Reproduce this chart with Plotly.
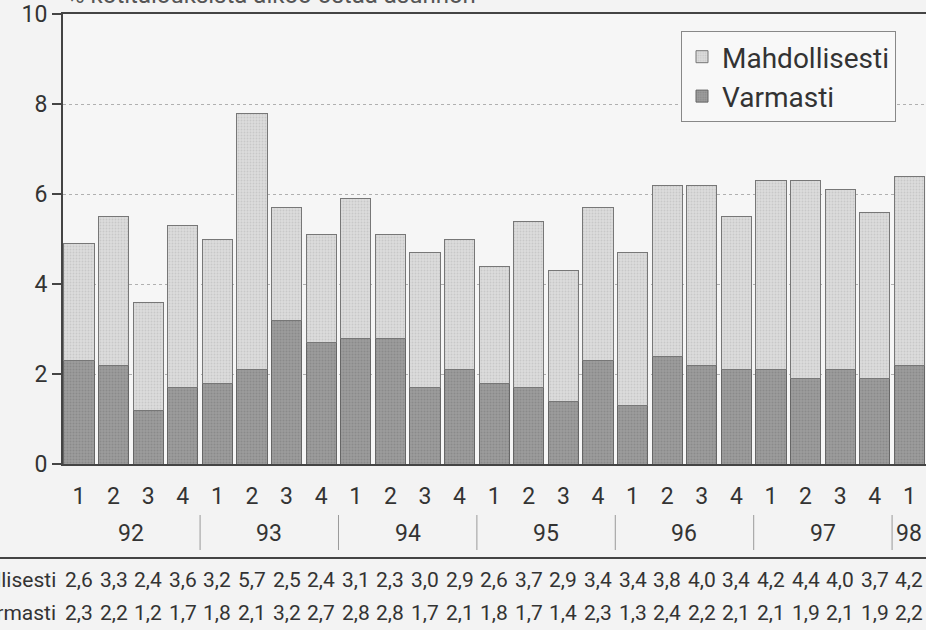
import plotly.graph_objects as go

# ---- data ----
quarters = ["1", "2", "3", "4"] * 6 + ["1"]
years = ["92", "93", "94", "95", "96", "97", "98"]
quarters_per_year = [4, 4, 4, 4, 4, 4, 1]
mahdollisesti = [2.6, 3.3, 2.4, 3.6, 3.2, 5.7, 2.5, 2.4, 3.1, 2.3, 3.0, 2.9, 2.6,
                 3.7, 2.9, 3.4, 3.4, 3.8, 4.0, 3.4, 4.2, 4.4, 4.0, 3.7, 4.2]
varmasti = [2.3, 2.2, 1.2, 1.7, 1.8, 2.1, 3.2, 2.7, 2.8, 2.8, 1.7, 2.1, 1.8,
            1.7, 1.4, 2.3, 1.3, 2.4, 2.2, 2.1, 2.1, 1.9, 2.1, 1.9, 2.2]
y_ticks = [0, 2, 4, 6, 8, 10]
series_names = ["Mahdollisesti", "Varmasti"]
title_text = "% kotitalouksista aikoo ostaa asunnon"

FONT = "Roboto, sans-serif"
TXT = "#333333"
x = list(range(len(quarters)))

W, H = 926, 630
L, R, T, B = 63, 0, 14, 166
pw = W - L - R
ph = H - T - B


def py(px):
    """pixel y (from top) -> paper y"""
    return (H - B - px) / ph


def pxx(px):
    """pixel x (from left) -> paper x"""
    return (px - L) / pw


fig = go.Figure()
fig.add_trace(go.Bar(
    x=x, y=varmasti, name=series_names[1],
    marker=dict(color="#9c9c9c", line=dict(color="#666666", width=1),
                pattern=dict(shape=".", fgcolor="#777777", size=3, solidity=0.35)),
    width=0.87,
))
fig.add_trace(go.Bar(
    x=x, y=mahdollisesti, name=series_names[0],
    marker=dict(color="#dcdcdc", line=dict(color="#777777", width=1),
                pattern=dict(shape=".", fgcolor="#b3b3b3", size=3, solidity=0.3)),
    width=0.87,
))

annotations = []
shapes = []

# year labels and separators
start = 0
for yr, n in zip(years, quarters_per_year):
    center = start + (n - 1) / 2
    annotations.append(dict(x=center, xref="x", y=py(533), yref="paper",
                            xanchor="center", yanchor="middle",
                            text=yr, showarrow=False,
                            font=dict(family=FONT, size=23, color=TXT)))
    shapes.append(dict(type="line", xref="x", yref="paper",
                       x0=start - 0.5, x1=start - 0.5, y0=py(515), y1=py(550),
                       line=dict(color="#9a9a9a", width=1)))
    start += n

# horizontal rule above table
shapes.append(dict(type="line", xref="paper", yref="paper",
                   x0=pxx(0), x1=1, y0=py(558), y1=py(558),
                   line=dict(color="#444444", width=2)))

# data table
for label, vals, ypx in [(series_names[0], mahdollisesti, 580),
                         (series_names[1], varmasti, 613)]:
    annotations.append(dict(x=pxx(58), xref="paper", y=py(ypx), yref="paper",
                            text=label, showarrow=False,
                            xanchor="right", yanchor="middle",
                            font=dict(family=FONT, size=21, color=TXT)))
    for i, v in enumerate(vals):
        annotations.append(dict(x=i, xref="x", y=py(ypx), yref="paper",
                                xanchor="center", yanchor="middle",
                                text=f"{v:.1f}".replace(".", ","), showarrow=False,
                                font=dict(family=FONT, size=21, color=TXT)))

# partially visible title at the top
annotations.append(dict(x=pxx(65), xref="paper", y=py(11), yref="paper",
                        text=title_text, showarrow=False, xanchor="left",
                        yanchor="bottom",
                        font=dict(family=FONT, size=24, color="#555555")))

fig.update_layout(
    width=W, height=H,
    margin=dict(l=L, r=R, t=T, b=B, pad=0, autoexpand=False),
    barmode="stack",
    paper_bgcolor="#f3f3f3",
    plot_bgcolor="#f6f6f6",
    font=dict(family=FONT, color=TXT),
    showlegend=True,
    legend=dict(x=pxx(681), y=py(31), xanchor="left", yanchor="top",
                traceorder="reversed", bgcolor="#f8f8f8",
                bordercolor="#888888", borderwidth=1,
                font=dict(family=FONT, size=28, color=TXT),
                itemwidth=30),
    annotations=annotations,
    shapes=shapes,
)
fig.update_xaxes(
    range=[-0.462, 24.48], tickvals=x, ticktext=quarters,
    ticks="", tickfont=dict(family=FONT, size=23, color=TXT),
    ticklabelstandoff=10, automargin=False,
    showline=True, linecolor="#444444", linewidth=2, mirror=True,
    showgrid=False, zeroline=False,
)
fig.update_yaxes(
    range=[0, 10], tickvals=y_ticks, automargin=False,
    ticks="outside", ticklen=9, tickwidth=2, tickcolor="#444444",
    tickfont=dict(family=FONT, size=23, color=TXT),
    showline=True, linecolor="#444444", linewidth=2,
    showgrid=True, gridcolor="#b0b0b0", griddash="dot", gridwidth=1,
    zeroline=False,
)

fig.write_html(
    "out.html",
    config={"displayModeBar": False},
    post_script="document.body.style.margin='0';document.body.style.overflow='hidden';",
)
